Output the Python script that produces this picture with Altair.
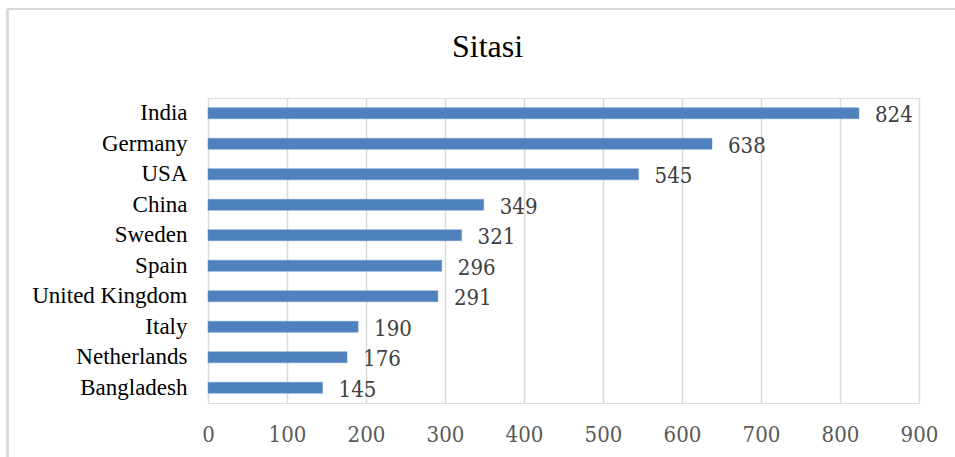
import altair as alt
import pandas as pd

# Citation counts per country
countries = ["India", "Germany", "USA", "China", "Sweden", "Spain",
             "United Kingdom", "Italy", "Netherlands", "Bangladesh"]
citations = [824, 638, 545, 349, 321, 296, 291, 190, 176, 145]
x_ticks = [0, 100, 200, 300, 400, 500, 600, 700, 800, 900]

df = pd.DataFrame({"country": countries, "sitasi": citations})

W, H = 711, 305
PAD_L, PAD_T = 208, 98

serif = "Liberation Serif"
num_font = "DejaVu Serif Condensed, DejaVu Serif"

x_enc = alt.X(
    "sitasi:Q",
    scale=alt.Scale(domain=[0, 900], nice=False, zero=True),
    axis=alt.Axis(
        values=x_ticks, title=None, domain=False, ticks=False,
        grid=True, gridColor="#d9d9d9", gridWidth=1.5,
        labelFont=num_font, labelFontSize=22, labelColor="#595959",
        labelPadding=21, labelFlush=False,
    ),
)
y_enc = alt.Y(
    "country:N", sort=None,
    scale=alt.Scale(paddingInner=0, paddingOuter=0),
    axis=alt.Axis(
        title=None, domain=False, ticks=False, grid=False,
        labelFont=serif, labelFontSize=23, labelColor="#000000",
        labelPadding=21, labelLimit=300,
    ),
)

base = alt.Chart(df).encode(x=x_enc, y=y_enc)

bars = base.mark_bar(size=11, color="#4f81bd", stroke="#6a96cc", strokeWidth=0.5)

labels = base.mark_text(
    align="left", baseline="middle", dx=16, dy=2,
    font=num_font, fontSize=22, color="#404040",
).encode(text="sitasi:Q")

# light frame around the whole chart area
frame_left = alt.Chart(df).mark_rule(color="#d9d9d9", strokeWidth=2).encode(
    x=alt.value(7.5 - PAD_L), y=alt.value(9 - PAD_T), y2=alt.value(H + 200)
)
frame_top = alt.Chart(df).mark_rule(color="#d9d9d9", strokeWidth=2).encode(
    y=alt.value(9 - PAD_T), x=alt.value(7.5 - PAD_L), x2=alt.value(W + 200)
)

chart = alt.layer(frame_left, frame_top, bars, labels).properties(
    width=W, height=H,
    title=alt.TitleParams(
        "Sitasi", font=serif, fontSize=32, fontWeight="normal",
        color="#000000", anchor="middle", dx=-76, offset=-81,
        baseline="alphabetic",
    ),
    autosize=alt.AutoSizeParams(type="none"),
    padding={"left": PAD_L, "top": PAD_T, "right": 955 - PAD_L - W, "bottom": 457 - PAD_T - H},
).configure_view(stroke=None).configure(background="#ffffff")

chart.save("out.html", embed_options={"renderer": "svg", "actions": False})
